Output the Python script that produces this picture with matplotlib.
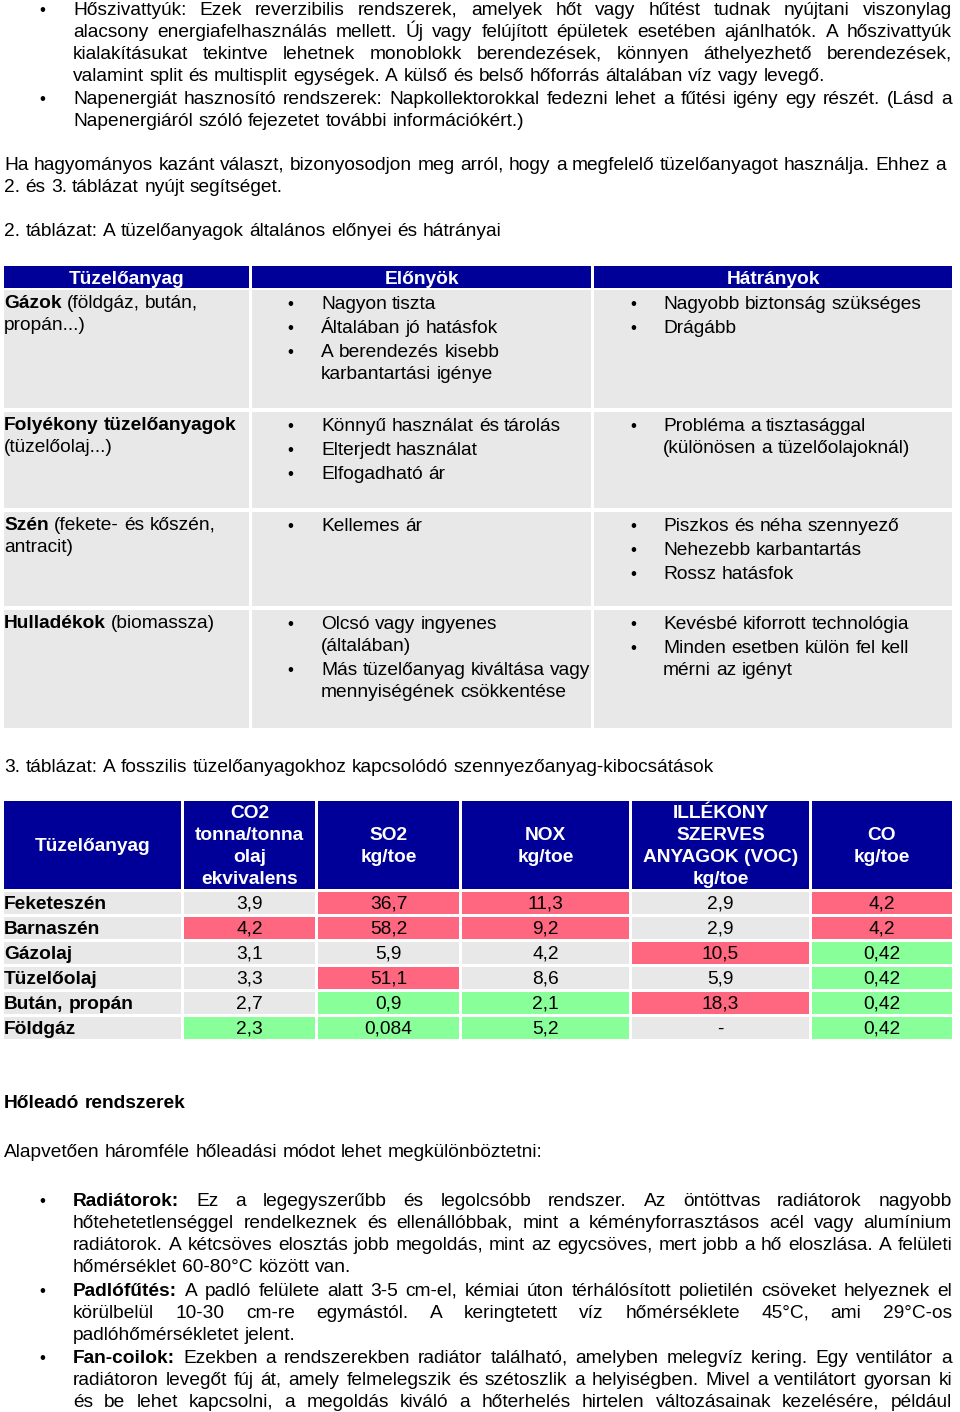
import matplotlib
matplotlib.use('Agg')
import matplotlib.pyplot as plt
from matplotlib.patches import Rectangle

plt.rcParams['font.family'] = ['Liberation Sans', 'DejaVu Sans']

# ---------------- data ----------------
t2_header = ['Tüzelőanyag', 'Előnyök', 'Hátrányok']
t2_fuels = [[('Gázok', True), (' (földgáz, bután,', False)], [('propán...)', False)]], \
           [[('Folyékony tüzelőanyagok', True)], [('(tüzelőolaj...)', False)]], \
           [[('Szén', True), (' (fekete- és kőszén,', False)], [('antracit)', False)]], \
           [[('Hulladékok', True), (' (biomassza)', False)]]
t2_pros = [[['Nagyon tiszta'], ['Általában jó hatásfok'], ['A berendezés kisebb', 'karbantartási igénye']],
           [['Könnyű használat és tárolás'], ['Elterjedt használat'], ['Elfogadható ár']],
           [['Kellemes ár']],
           [['Olcsó vagy ingyenes', '(általában)'], ['Más tüzelőanyag kiváltása vagy', 'mennyiségének csökkentése']]]
t2_cons = [[['Nagyobb biztonság szükséges'], ['Drágább']],
           [['Probléma a tisztasággal', '(különösen a tüzelőolajoknál)']],
           [['Piszkos és néha szennyező'], ['Nehezebb karbantartás'], ['Rossz hatásfok']],
           [['Kevésbé kiforrott technológia'], ['Minden esetben külön fel kell', 'mérni az igényt']]]

t3_header = [['Tüzelőanyag'], ['CO2', 'tonna/tonna', 'olaj', 'ekvivalens'], ['SO2', 'kg/toe'],
             ['NOX', 'kg/toe'], ['ILLÉKONY', 'SZERVES', 'ANYAGOK (VOC)', 'kg/toe'], ['CO', 'kg/toe']]
fuels = ['Feketeszén', 'Barnaszén', 'Gázolaj', 'Tüzelőolaj', 'Bután, propán', 'Földgáz']
co2 = ['3,9', '4,2', '3,1', '3,3', '2,7', '2,3']
so2 = ['36,7', '58,2', '5,9', '51,1', '0,9', '0,084']
nox = ['11,3', '9,2', '4,2', '8,6', '2,1', '5,2']
voc = ['2,9', '2,9', '10,5', '5,9', '18,3', '-']
co = ['4,2', '4,2', '0,42', '0,42', '0,42', '0,42']
co2_rating = ['n', 'r', 'n', 'n', 'n', 'g']
so2_rating = ['r', 'r', 'n', 'r', 'g', 'g']
nox_rating = ['r', 'r', 'n', 'n', 'g', 'g']
voc_rating = ['n', 'n', 'r', 'n', 'r', 'n']
co_rating = ['r', 'r', 'g', 'g', 'g', 'g']

NAVY = '#000099'
GRAY = '#E8E8E8'
RATING_COLORS = {'r': '#FF6680', 'g': '#88FF99', 'n': GRAY}

# ---------------- canvas ----------------
fig = plt.figure(figsize=(9.6, 14.12), dpi=100)
ax = fig.add_axes([0, 0, 1, 1])
ax.set_xlim(0, 960)
ax.set_ylim(1412, 0)
ax.axis('off')
R = fig.canvas.get_renderer()

_cache = {}
def wwidth(s, bold, fs):
    key = (s, bold, round(fs, 3))
    if key not in _cache:
        t = ax.text(0, 0, s, fontsize=fs, fontweight='bold' if bold else 'normal')
        _cache[key] = t.get_window_extent(R).width
        t.remove()
    return _cache[key]


REF = 'Ha hagyományos kazánt választ, bizonyosodjon meg arról, hogy a megfelelő tüzelőanyagot használja. Ehhez a'
FS = 13 * 942 / wwidth(REF, False, 13)

# Agg rounds (baseline + descent) half-to-even; a tiny upward nudge keeps
# words with half-pixel descents (e.g. ending in a comma) on the same row.
EPS = 0.02


def put(x, yb, s, bold=False, fs=None, color='black', ha='left'):
    ax.text(x, yb - EPS, s, fontsize=fs or FS, fontweight='bold' if bold else 'normal',
            va='baseline', ha=ha, color=color)


def line(segs, x0, yb, x1=None, fs=None, color='black'):
    fs = fs or FS
    if isinstance(segs, str):
        segs = [(segs, False)]
    words = []
    for text, bold in segs:
        for w in text.split():
            words.append((w, bold))
    widths = [wwidth(w, b, fs) for w, b in words]
    if x1 is not None and len(words) > 1:
        gap = (x1 - x0 - sum(widths)) / (len(words) - 1)
    else:
        gap = wwidth('x x', False, fs) - wwidth('xx', False, fs)
    x = x0
    for (w, b), wd in zip(words, widths):
        put(x, yb, w, bold=b, fs=fs, color=color)
        x += wd + gap


def bullet(x, yb):
    ax.text(x, yb - EPS, '•', fontsize=FS * 0.9, ha='center', va='baseline', color='black')


def rect(x0, y0, x1, y1, color):
    ax.add_patch(Rectangle((x0, y0), x1 - x0, y1 - y0, facecolor=color, edgecolor='none'))


RIGHT = 952

# ---------------- top paragraphs ----------------
top_lines = [
    ('Hőszivattyúk: Ezek reverzibilis rendszerek, amelyek hőt vagy hűtést tudnak nyújtani viszonylag', True, True),
    ('alacsony energiafelhasználás mellett. Új vagy felújított épületek esetében ajánlhatók. A hőszivattyúk', True, False),
    ('kialakításukat tekintve lehetnek monoblokk berendezések, könnyen áthelyezhető berendezések,', True, False),
    ('valamint split és multisplit egységek. A külső és belső hőforrás általában víz vagy levegő.', False, False),
    ('Napenergiát hasznosító rendszerek: Napkollektorokkal fedezni lehet a fűtési igény egy részét. (Lásd a', True, True),
    ('Napenergiáról szóló fejezetet további információkért.)', False, False),
]
top_y = [15, 37, 59, 81, 104, 126]
for (txt, just, bul), yb in zip(top_lines, top_y):
    if bul:
        bullet(42, yb)
    line(txt, 73, yb, RIGHT if just else None)

line(REF, 4, 170)
line('2. és 3. táblázat nyújt segítséget.', 4, 192)
line('2. táblázat: A tüzelőanyagok általános előnyei és hátrányai', 4, 236)

# ---------------- table 2 ----------------
t2_cols = [(4, 249), (252, 591), (594, 952)]
for (c0, c1), h in zip(t2_cols, t2_header):
    rect(c0, 266, c1, 288, NAVY)
    put((c0 + c1) / 2, 284, h, bold=True, color='white', ha='center')

t2_rows = [(290, 408), (412, 508), (512, 606), (610, 728)]
for i, (r0, r1) in enumerate(t2_rows):
    for c0, c1 in t2_cols:
        rect(c0, r0, c1, r1, GRAY)
    base = r0 + 19
    for k, segs in enumerate(t2_fuels[i]):
        line(segs, 4, base - 1 + 22 * k)
    for items, bx, tx in ((t2_pros[i], 290, 321), (t2_cons[i], 633, 663)):
        y = base
        for item in items:
            bullet(bx, y)
            for ln in item:
                line(ln, tx, y)
                y += 22
            y += 2

# ---------------- table 3 ----------------
line('3. táblázat: A fosszilis tüzelőanyagokhoz kapcsolódó szennyezőanyag-kibocsátások', 4, 772)

t3_cols = [(4, 181), (184, 315), (318, 459), (462, 629), (632, 809), (812, 952)]
h0, h1 = 801, 889
for (c0, c1), hdr in zip(t3_cols, t3_header):
    rect(c0, h0, c1, h1, NAVY)
    n = len(hdr)
    mid = (h0 + h1) / 2 + 6
    for k, s in enumerate(hdr):
        yb = round(mid + (k - (n - 1) / 2) * 22)
        put((c0 + c1) / 2, yb, s, bold=True, color='white', ha='center')

values = [co2, so2, nox, voc, co]
ratings = [co2_rating, so2_rating, nox_rating, voc_rating, co_rating]
for i, fuel in enumerate(fuels):
    r0 = 892 + 25 * i
    r1 = r0 + 22
    rect(t3_cols[0][0], r0, t3_cols[0][1], r1, GRAY)
    line([(fuel, True)], 4, r0 + 17)
    for j in range(5):
        c0, c1 = t3_cols[j + 1]
        rect(c0, r0, c1, r1, RATING_COLORS[ratings[j][i]])
        put((c0 + c1) / 2, r0 + 17, values[j][i], ha='center')

# ---------------- bottom section ----------------
line([('Hőleadó rendszerek', True)], 4, 1108)
line('Alapvetően háromféle hőleadási módot lehet megkülönböztetni:', 4, 1157)

bottom_lines = [
    ([('Radiátorok:', True), (' Ez a legegyszerűbb és legolcsóbb rendszer. Az öntöttvas radiátorok nagyobb', False)], True, True),
    ([('hőtehetetlenséggel rendelkeznek és ellenállóbbak, mint a kéményforrasztásos acél vagy alumínium', False)], True, False),
    ([('radiátorok. A kétcsöves elosztás jobb megoldás, mint az egycsöves, mert jobb a hő eloszlása. A felületi', False)], True, False),
    ([('hőmérséklet 60-80°C között van.', False)], False, False),
    ([('Padlófűtés:', True), (' A padló felülete alatt 3-5 cm-el, kémiai úton térhálósított polietilén csöveket helyeznek el', False)], True, True),
    ([('körülbelül 10-30 cm-re egymástól. A keringtetett víz hőmérséklete 45°C, ami 29°C-os', False)], True, False),
    ([('padlóhőmérsékletet jelent.', False)], False, False),
    ([('Fan-coilok:', True), (' Ezekben a rendszerekben radiátor található, amelyben melegvíz kering. Egy ventilátor a', False)], True, True),
    ([('radiátoron levegőt fúj át, amely felmelegszik és szétoszlik a helyiségben. Mivel a ventilátort gyorsan ki', False)], True, False),
    ([('és be lehet kapcsolni, a megoldás kiváló a hőterhelés hirtelen változásainak kezelésére, például', False)], True, False),
]
bottom_y = [1206, 1228, 1250, 1272, 1296, 1318, 1340, 1363, 1385, 1407]
for (segs, just, bul), yb in zip(bottom_lines, bottom_y):
    if bul:
        bullet(42, yb)
    line(segs, 73, yb, RIGHT if just else None)

fig.savefig('out.png', dpi=100, facecolor='white')
